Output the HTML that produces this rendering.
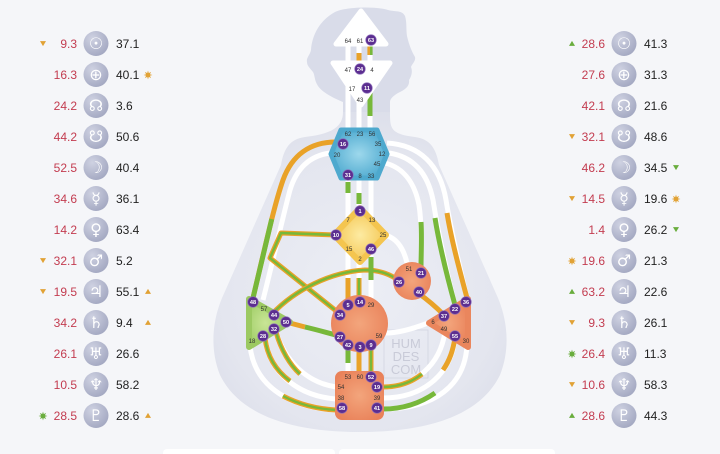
<!DOCTYPE html>
<html><head><meta charset="utf-8"><style>
html,body{margin:0;padding:0;background:#f5f6f9;}
svg{display:block;}
.pl{font-family:"Liberation Sans",sans-serif;font-size:12px;}
.r{fill:#c33c50;}
.k{fill:#1f1f1f;}
.gl{font-family:"DejaVu Sans",sans-serif;font-size:16px;fill:#fff;text-anchor:middle;}
.gn{font-family:"Liberation Sans",sans-serif;font-size:6px;fill:#333;text-anchor:middle;}
.gp{font-family:"Liberation Sans",sans-serif;font-size:5.6px;fill:#fff;text-anchor:middle;font-weight:bold;}
.w{fill:none;stroke:#fff;stroke-width:5;}
.o{fill:none;stroke:#e9a228;stroke-width:5;stroke-linejoin:round;}
.gr{fill:none;stroke:#77b83a;stroke-width:5;stroke-linejoin:round;}
.gs{fill:none;stroke:#77b83a;stroke-width:2.4;stroke-linejoin:round;}
.pc{fill:#5c2e90;stroke:#8b6bb9;stroke-width:0.6;}
</style></head><body>
<svg width="720" height="454" viewBox="0 0 720 454" xmlns="http://www.w3.org/2000/svg">
<defs>
<radialGradient id="bodyG" cx="360" cy="290" r="230" gradientUnits="userSpaceOnUse">
<stop offset="0" stop-color="#eceef5"/><stop offset="0.6" stop-color="#e4e6ef"/><stop offset="1" stop-color="#d4d7e5"/></radialGradient>
<radialGradient id="ic" cx="0.35" cy="0.3" r="0.8"><stop offset="0" stop-color="#cfd2e2"/><stop offset="1" stop-color="#a0a5bf"/></radialGradient>
<radialGradient id="thG" cx="0.5" cy="0.5" r="0.6"><stop offset="0" stop-color="#9dd8ec"/><stop offset="1" stop-color="#48a6cd"/></radialGradient>
<radialGradient id="gG" cx="0.5" cy="0.5" r="0.6"><stop offset="0" stop-color="#fdeba2"/><stop offset="1" stop-color="#f3c148"/></radialGradient>
<radialGradient id="spG" cx="0.4" cy="0.5" r="0.7"><stop offset="0" stop-color="#c9e596"/><stop offset="1" stop-color="#93c659"/></radialGradient>
<radialGradient id="orG" cx="0.5" cy="0.5" r="0.6"><stop offset="0" stop-color="#f3a57c"/><stop offset="1" stop-color="#e98159"/></radialGradient>
<path id="st" d="M4.4,0 L1.9,0.8 L3.1,3.1 L0.8,1.9 L0,4.4 L-0.8,1.9 L-3.1,3.1 L-1.9,0.8 L-4.4,0 L-1.9,-0.8 L-3.1,-3.1 L-0.8,-1.9 L0,-4.4 L0.8,-1.9 L3.1,-3.1 L1.9,-0.8 Z"/>
<path id="td" d="M-3,-2.4 L3,-2.4 L0,2.6 Z"/>
<path id="tu" d="M-3,2.4 L3,2.4 L0,-2.6 Z"/>
</defs>
<rect width="720" height="454" fill="#f5f6f9"/>
<rect x="163" y="449" width="172" height="12" rx="4" fill="#fff"/>
<rect x="339" y="449" width="216" height="12" rx="4" fill="#fff"/>

<path fill="#d9dce9" d="M343,125 L343,102 C333,98 322,92 318,86 C314,80 315,75 313,72 C310,68 307,66 307,62 C306,58 310,55 311,50 C312,35 320,20 335,12 C345,7 375,6 388,10 C396,12 402,10 405,16 C407,22 406,30 407,36 C409,45 412,52 415,57 C416,61 412,64 411,67 C413,72 411,77 409,80 C410,86 405,90 398,93 C393,96 390,99 390,102 L390,125 Z"/>
<path fill="url(#bodyG)" d="M343,112 C343,128 330,134 305,137 C290,139 284,148 281,165 L222,298 C212,322 210,350 220,375 C238,412 285,432 360,432 C435,432 482,412 500,375 C510,350 508,322 498,298 L439,165 C436,148 430,139 415,137 C390,134 390,128 390,112 Z"/>

<rect x="384" y="330" width="44" height="48" fill="none" stroke="#d3d5e1" stroke-width="0.8"/>
<g font-family="Liberation Sans,sans-serif" font-size="13" fill="#c9cbd8" text-anchor="middle">
<text x="406" y="348">HUM</text><text x="406" y="361">DES</text><text x="406" y="374">COM</text></g>

<path class="w" d="M348,42V64 M359,42V64 M370,42V64 M348,80V130 M359,100V130 M370,88V130 M348,178V222 M359,178V208 M371,178V222 M348,250V300 M359,262V300 M371,250V300 M348,345V373 M359,345V373 M371,345V373"/>
<path class="w" d="M330,153 C308,156 296,170 290,190 C284,212 278,240 263,300"/>
<path class="w" d="M387,143 C420,145 440,165 446,200 C450,225 458,260 467,298"/>
<path class="w" d="M389,153 C415,157 428,175 433,200 C437,225 445,265 455,305"/>
<path class="w" d="M385,163 C405,168 415,185 419,205 C422,225 421,250 421,268"/>
<path class="w" d="M388,236 C398,240 404,250 407,263"/>
<path class="w" d="M386,333 C400,333 415,328 428,323"/>
<path class="w" d="M276,332 C285,360 305,382 336,387"/>
<path class="w" d="M265,338 C270,375 300,396 336,399"/>
<path class="w" d="M250,346 C255,390 295,408 336,410"/>
<path class="w" d="M383,387 C415,387 440,365 445,332"/>
<path class="w" d="M383,398 C425,398 452,372 455,338"/>
<path class="w" d="M383,409 C435,409 465,385 467,345"/>

<path class="o" d="M336,142 C310,142 292,155 283,180 C276,200 270,225 253,298"/>
<path class="gr" d="M271.75,219.1 C267.25,237 261.5,261.5 253,298"/>
<path class="o" d="M447,213 C451,238 459,268 467,298"/>
<path class="gr" d="M435,218 C439,243 447,276 455,305"/>
<path class="gr" d="M421,222 C422,238 421,255 421,268"/>
<path class="o" d="M336,235 L281,233 L270,258 L340,314"/>
<path class="gs" d="M336,235 L281,233 L270,258 L340,314"/>
<path class="o" d="M272,314 C295,290 330,272 365,270 C380,270 392,275 399,281"/>
<path class="gs" d="M272,314 C295,290 330,272 365,270 C380,270 392,275 399,281"/>
<path class="o" d="M418,293 C428,300 436,307 444,315"/>
<path class="o" d="M286,322 L305,327"/>
<path class="gr" d="M305,327 C318,330 328,333 340,336"/>
<path class="o" style="stroke-width:2.6" d="M368.7,45V55"/>
<path class="gr" style="stroke-width:2.6" d="M371.3,45V55"/>
<path class="o" d="M359,53V62"/>
<path class="gr" d="M370,92V116"/>
<path class="gr" d="M348,182V193"/>
<path class="gr" d="M359,193V204"/>
<path class="o" d="M348,278V299"/>
<path class="o" d="M359,278V299"/><path class="gs" d="M359,278V299"/>
<path class="gr" d="M371,257V280"/>
<path class="gr" d="M348,350V363"/>
<path class="o" d="M359,350V371"/>
<path class="o" d="M371,345V372"/><path class="gs" d="M371,345V372"/>
<path class="o" d="M276,332 C281,350 290,365 300,374"/><path class="gs" d="M276,332 C281,350 290,365 300,374"/>
<path class="o" d="M265,338 C267,355 275,370 290,381"/><path class="gs" d="M265,338 C267,355 275,370 290,381"/>
<path class="o" d="M283,396 C300,405 318,409 336,410"/><path class="gs" d="M283,396 C300,405 318,409 336,410"/>
<path class="o" d="M383,387 C400,387 412,382 422,374"/><path class="gs" d="M383,387 C400,387 412,382 422,374"/>
<path class="o" d="M455,338 C453,350 450,360 443,370"/>
<path class="gr" d="M383,409 C405,409 422,402 435,393"/>

<polygon points="361,11 336,44 386,44" fill="#fff" stroke="#fff" stroke-width="5" stroke-linejoin="round"/>
<polygon points="333,63 390,63 361,105" fill="#fff" stroke="#fff" stroke-width="5" stroke-linejoin="round"/>
<polygon points="341,130 377,130 387,154 377,178 341,178 331,154" fill="url(#thG)" stroke="#4ea9ce" stroke-width="5" stroke-linejoin="round"/>
<polygon points="360,208 386,235 360,262 334,235" fill="url(#gG)" stroke="#f4c54f" stroke-width="6" stroke-linejoin="round"/>
<polygon points="249,299 290,322 249,347" fill="url(#spG)" stroke="#9cc962" stroke-width="6" stroke-linejoin="round"/>
<polygon points="468,299 429,323 468,347" fill="url(#orG)" stroke="#ea865d" stroke-width="6" stroke-linejoin="round"/>
<circle cx="359.5" cy="323.5" r="28.5" fill="url(#orG)"/>
<circle cx="412" cy="281" r="19" fill="url(#orG)"/>
<rect x="335" y="371" width="49" height="49" rx="7" fill="url(#orG)"/>

<g class="gn">
<text x="348" y="43">64</text><text x="360" y="43">61</text>
<text x="348" y="72">47</text><text x="372" y="72">4</text><text x="352" y="91">17</text><text x="360" y="102">43</text>
<text x="348" y="136">62</text><text x="360" y="136">23</text><text x="372" y="136">56</text><text x="378" y="146">35</text><text x="337" y="157">20</text><text x="382" y="156">12</text><text x="377" y="166">45</text><text x="360" y="178">8</text><text x="371" y="178">33</text>
<text x="348" y="222">7</text><text x="372" y="222">13</text><text x="383" y="237">25</text><text x="349" y="251">15</text><text x="360" y="261">2</text>
<text x="409" y="271">51</text>
<text x="264" y="311">57</text><text x="252" y="343">18</text>
<text x="371" y="307">29</text><text x="379" y="338">59</text>
<text x="433" y="324">6</text><text x="444" y="331">49</text><text x="466" y="343">30</text>
<text x="348" y="379">53</text><text x="360" y="379">60</text><text x="341" y="389">54</text><text x="341" y="400">38</text><text x="377" y="400">39</text>
</g>
<g>
<circle class="pc" cx="371" cy="40" r="5.3"/><circle class="pc" cx="360" cy="69" r="5.3"/><circle class="pc" cx="367" cy="88" r="5.3"/>
<circle class="pc" cx="343" cy="144" r="5.3"/><circle class="pc" cx="348" cy="175" r="5.3"/>
<circle class="pc" cx="360" cy="211" r="5.3"/><circle class="pc" cx="336" cy="235" r="5.3"/><circle class="pc" cx="371" cy="249" r="5.3"/>
<circle class="pc" cx="421" cy="273" r="5.3"/><circle class="pc" cx="399" cy="282" r="5.3"/><circle class="pc" cx="419" cy="292" r="5.3"/>
<circle class="pc" cx="253" cy="302" r="5.3"/><circle class="pc" cx="274" cy="315" r="5.3"/><circle class="pc" cx="286" cy="322" r="5.3"/><circle class="pc" cx="274" cy="329" r="5.3"/><circle class="pc" cx="263" cy="336" r="5.3"/>
<circle class="pc" cx="348" cy="305" r="5.3"/><circle class="pc" cx="360" cy="302" r="5.3"/><circle class="pc" cx="340" cy="315" r="5.3"/><circle class="pc" cx="340" cy="337" r="5.3"/><circle class="pc" cx="348" cy="345" r="5.3"/><circle class="pc" cx="360" cy="347" r="5.3"/><circle class="pc" cx="371" cy="345" r="5.3"/>
<circle class="pc" cx="466" cy="302" r="5.3"/><circle class="pc" cx="455" cy="309" r="5.3"/><circle class="pc" cx="444" cy="316" r="5.3"/><circle class="pc" cx="455" cy="336" r="5.3"/>
<circle class="pc" cx="371" cy="377" r="5.3"/><circle class="pc" cx="377" cy="387" r="5.3"/><circle class="pc" cx="342" cy="408" r="5.3"/><circle class="pc" cx="377" cy="408" r="5.3"/>
</g>
<g class="gp">
<text x="371" y="42">63</text><text x="360" y="71">24</text><text x="367" y="90">11</text>
<text x="343" y="146">16</text><text x="348" y="177">31</text>
<text x="360" y="213">1</text><text x="336" y="237">10</text><text x="371" y="251">46</text>
<text x="421" y="275">21</text><text x="399" y="284">26</text><text x="419" y="294">40</text>
<text x="253" y="304">48</text><text x="274" y="317">44</text><text x="286" y="324">50</text><text x="274" y="331">32</text><text x="263" y="338">28</text>
<text x="348" y="307">5</text><text x="360" y="304">14</text><text x="340" y="317">34</text><text x="340" y="339">27</text><text x="348" y="347">42</text><text x="360" y="349">3</text><text x="371" y="347">9</text>
<text x="466" y="304">36</text><text x="455" y="311">22</text><text x="444" y="318">37</text><text x="455" y="338">55</text>
<text x="371" y="379">52</text><text x="377" y="389">19</text><text x="342" y="410">58</text><text x="377" y="410">41</text>
</g>

<g>
<circle cx="96" cy="43.5" r="12.5" fill="url(#ic)"/><circle cx="96" cy="74.5" r="12.5" fill="url(#ic)"/><circle cx="96" cy="105.5" r="12.5" fill="url(#ic)"/><circle cx="96" cy="136.5" r="12.5" fill="url(#ic)"/><circle cx="96" cy="167.5" r="12.5" fill="url(#ic)"/><circle cx="96" cy="198.5" r="12.5" fill="url(#ic)"/><circle cx="96" cy="229.5" r="12.5" fill="url(#ic)"/><circle cx="96" cy="260.5" r="12.5" fill="url(#ic)"/><circle cx="96" cy="291.5" r="12.5" fill="url(#ic)"/><circle cx="96" cy="322.5" r="12.5" fill="url(#ic)"/><circle cx="96" cy="353.5" r="12.5" fill="url(#ic)"/><circle cx="96" cy="384.5" r="12.5" fill="url(#ic)"/><circle cx="96" cy="415.5" r="12.5" fill="url(#ic)"/>
<circle cx="624" cy="43.5" r="12.5" fill="url(#ic)"/><circle cx="624" cy="74.5" r="12.5" fill="url(#ic)"/><circle cx="624" cy="105.5" r="12.5" fill="url(#ic)"/><circle cx="624" cy="136.5" r="12.5" fill="url(#ic)"/><circle cx="624" cy="167.5" r="12.5" fill="url(#ic)"/><circle cx="624" cy="198.5" r="12.5" fill="url(#ic)"/><circle cx="624" cy="229.5" r="12.5" fill="url(#ic)"/><circle cx="624" cy="260.5" r="12.5" fill="url(#ic)"/><circle cx="624" cy="291.5" r="12.5" fill="url(#ic)"/><circle cx="624" cy="322.5" r="12.5" fill="url(#ic)"/><circle cx="624" cy="353.5" r="12.5" fill="url(#ic)"/><circle cx="624" cy="384.5" r="12.5" fill="url(#ic)"/><circle cx="624" cy="415.5" r="12.5" fill="url(#ic)"/>
</g>
<g class="gl">
<text x="96" y="49">☉</text><text x="96" y="80">⊕</text><text x="96" y="111">☊</text><text x="96" y="142">☋</text><text x="96" y="173">☽</text><text x="96" y="204">☿</text><text x="96" y="235">♀</text><text x="96" y="266">♂</text><text x="96" y="297">♃</text><text x="96" y="328">♄</text><text x="96" y="359">♅</text><text x="96" y="390">♆</text><text x="96" y="421">♇</text>
<text x="624" y="49">☉</text><text x="624" y="80">⊕</text><text x="624" y="111">☊</text><text x="624" y="142">☋</text><text x="624" y="173">☽</text><text x="624" y="204">☿</text><text x="624" y="235">♀</text><text x="624" y="266">♂</text><text x="624" y="297">♃</text><text x="624" y="328">♄</text><text x="624" y="359">♅</text><text x="624" y="390">♆</text><text x="624" y="421">♇</text>
</g>
<g class="pl r" text-anchor="end">
<text x="77" y="48">9.3</text><text x="77" y="79">16.3</text><text x="77" y="110">24.2</text><text x="77" y="141">44.2</text><text x="77" y="172">52.5</text><text x="77" y="203">34.6</text><text x="77" y="234">14.2</text><text x="77" y="265">32.1</text><text x="77" y="296">19.5</text><text x="77" y="327">34.2</text><text x="77" y="358">26.1</text><text x="77" y="389">10.5</text><text x="77" y="420">28.5</text>
<text x="605" y="48">28.6</text><text x="605" y="79">27.6</text><text x="605" y="110">42.1</text><text x="605" y="141">32.1</text><text x="605" y="172">46.2</text><text x="605" y="203">14.5</text><text x="605" y="234">1.4</text><text x="605" y="265">19.6</text><text x="605" y="296">63.2</text><text x="605" y="327">9.3</text><text x="605" y="358">26.4</text><text x="605" y="389">10.6</text><text x="605" y="420">28.6</text>
</g>
<g class="pl k">
<text x="116" y="48">37.1</text><text x="116" y="79">40.1</text><text x="116" y="110">3.6</text><text x="116" y="141">50.6</text><text x="116" y="172">40.4</text><text x="116" y="203">36.1</text><text x="116" y="234">63.4</text><text x="116" y="265">5.2</text><text x="116" y="296">55.1</text><text x="116" y="327">9.4</text><text x="116" y="358">26.6</text><text x="116" y="389">58.2</text><text x="116" y="420">28.6</text>
<text x="644" y="48">41.3</text><text x="644" y="79">31.3</text><text x="644" y="110">21.6</text><text x="644" y="141">48.6</text><text x="644" y="172">34.5</text><text x="644" y="203">19.6</text><text x="644" y="234">26.2</text><text x="644" y="265">21.3</text><text x="644" y="296">22.6</text><text x="644" y="327">26.1</text><text x="644" y="358">11.3</text><text x="644" y="389">58.3</text><text x="644" y="420">44.3</text>
</g>
<g fill="#e1a235">
<use href="#td" x="43" y="43.5"/><use href="#st" x="148" y="75"/><use href="#td" x="43" y="260.5"/><use href="#td" x="43" y="291.5"/><use href="#tu" x="148" y="291.5"/><use href="#tu" x="148" y="322.5"/><use href="#tu" x="148" y="415.5"/>
<use href="#td" x="572" y="136.5"/><use href="#td" x="572" y="198.5"/><use href="#st" x="676" y="199"/><use href="#st" x="572" y="261"/><use href="#td" x="572" y="322.5"/><use href="#td" x="572" y="384.5"/>
</g>
<g fill="#69ad3d">
<use href="#st" x="43" y="416"/>
<use href="#tu" x="572" y="43.5"/><use href="#td" x="676" y="167.5"/><use href="#td" x="676" y="229.5"/><use href="#tu" x="572" y="291.5"/><use href="#st" x="572" y="354"/><use href="#tu" x="572" y="415.5"/>
</g>
</svg>
</body></html>
